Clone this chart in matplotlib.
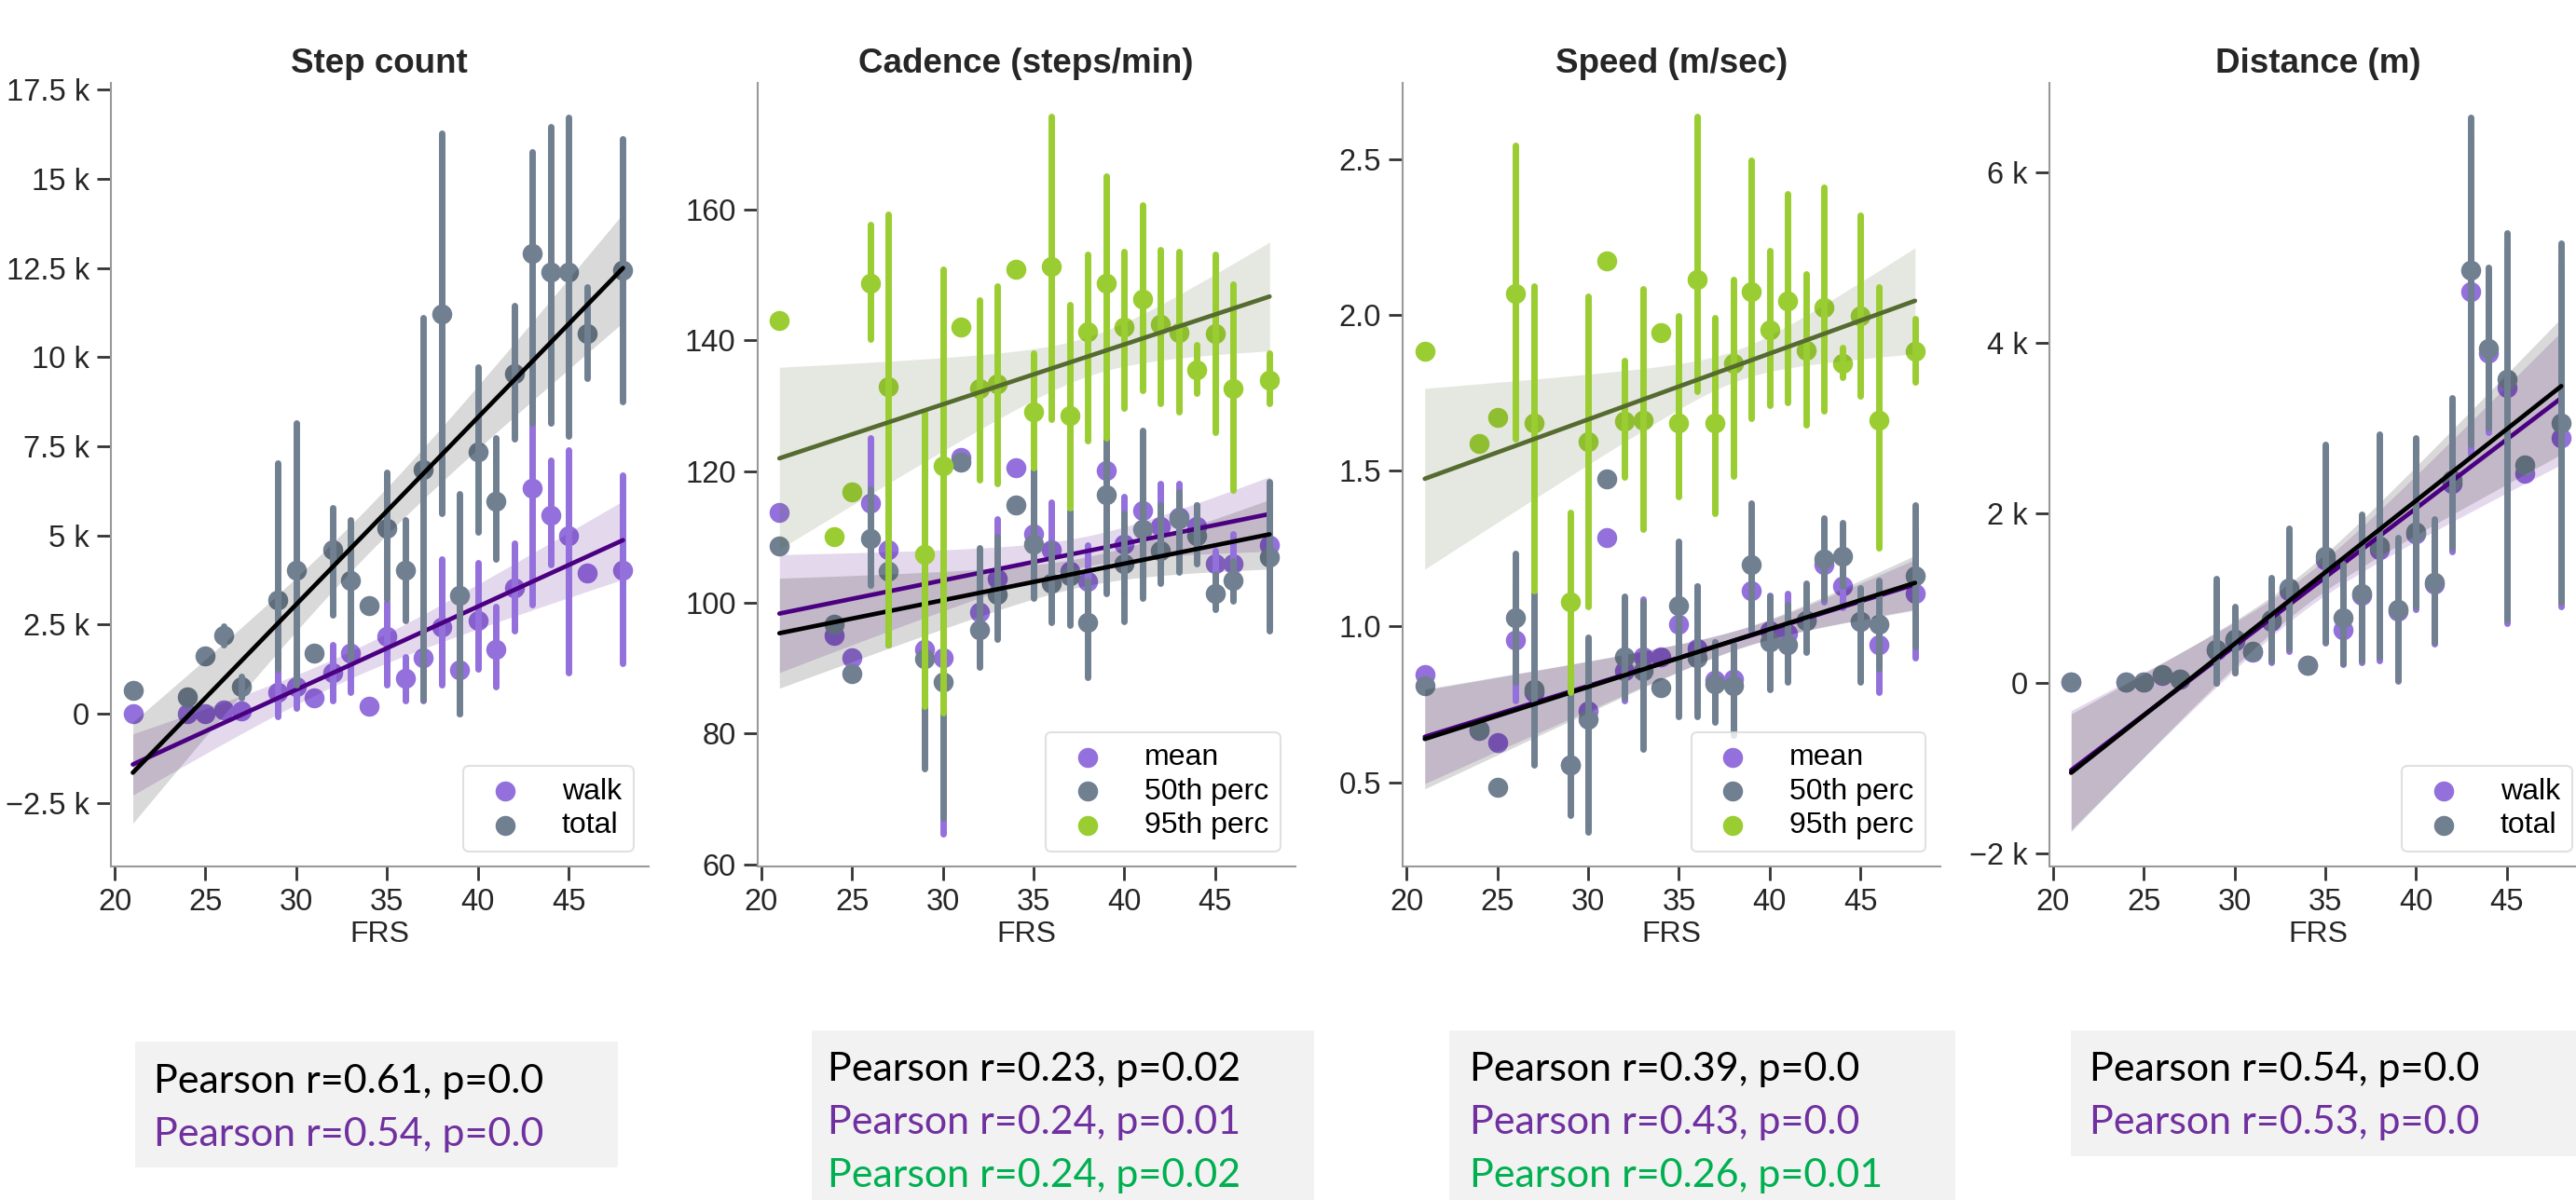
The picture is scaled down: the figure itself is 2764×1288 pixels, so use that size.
import numpy as np
import matplotlib
matplotlib.use("Agg")
import matplotlib.pyplot as plt
from matplotlib.patches import Rectangle
from matplotlib.ticker import FuncFormatter, MultipleLocator

nan = np.nan

# FRS values (x) shared by all panels
frs = [21, 24, 25, 26, 27, 29, 30, 31, 32, 33, 34, 35, 36, 37, 38, 39, 40, 41, 42, 43, 44, 45, 46, 48]

# Step count: walk / total (mean, CI low, CI high)
steps_walk = [0, 0, 0, 100, 70, 600, 750, 450, 1150, 1690, 220, 2170, 1000, 1570, 2440, 1240, 2620, 1800, 3520, 6330, 5580, 4990, 3940, 4030]
steps_walk_lo = [nan, nan, nan, nan, nan, -70, 150, nan, 370, 600, nan, 820, 370, 370, 820, 0, 1270, 750, 2320, 3070, 4190, 1150, nan, 1420]
steps_walk_hi = [nan, nan, nan, nan, nan, 1720, 1570, nan, 1950, 2020, nan, 3140, 1600, 3000, 4340, 2600, 4240, 3000, 4790, 8880, 7110, 7410, nan, 6690]
steps_total = [670, 480, 1630, 2200, 750, 3190, 4030, 1690, 4600, 3740, 3040, 5190, 4030, 6840, 11200, 3320, 7340, 5960, 9550, 12920, 12380, 12380, 10670, 12430]
steps_total_lo = [nan, nan, nan, 1950, 450, 1270, 820, nan, 2770, 1570, nan, 3220, 2620, 400, 5610, 0, 5090, 4340, 7710, 8160, 8160, 7780, 9400, 8760]
steps_total_hi = [nan, nan, nan, 2470, 1050, 7040, 8160, nan, 5790, 5430, nan, 6780, 5430, 11100, 16270, 6180, 9730, 7740, 11450, 15750, 16470, 16720, 11980, 16120]

# Cadence: mean / 50th / 95th percentile
cad_mean = [113.8, 95.0, 91.6, 115.1, 108.1, 92.8, 91.6, 122.2, 98.5, 103.7, 120.6, 110.5, 108.1, 104.8, 103.2, 120.2, 108.9, 114.0, 111.6, 113.0, 111.6, 105.9, 105.9, 108.7]
cad_mean_lo = [nan, nan, nan, 105.0, 98.0, 76.0, 64.7, nan, 93.0, 96.0, nan, 101.4, 100.6, 98.1, 98.1, 104.0, 101.4, 103.0, 105.5, 107.1, 107.9, 103.4, 100.6, 101.4]
cad_mean_hi = [nan, nan, nan, 125.1, 118.0, 108.0, 107.0, nan, 104.0, 112.8, nan, 120.2, 115.3, 112.0, 108.7, 133.0, 116.1, 116.1, 118.1, 118.1, 114.9, 107.9, 110.4, 114.4]
cad_p50 = [108.6, 96.7, 89.1, 109.7, 104.8, 91.4, 87.9, 121.4, 95.8, 101.2, 114.9, 108.9, 102.9, 104.0, 96.9, 116.5, 105.9, 111.2, 107.9, 112.8, 110.2, 101.4, 103.4, 106.9]
cad_p50_lo = [nan, nan, nan, 102.6, 93.6, 74.6, 67.1, nan, 90.1, 94.4, nan, 100.6, 96.9, 96.5, 88.5, 101.4, 97.1, 100.6, 103.0, 104.7, 105.9, 98.9, 100.2, 95.7]
cad_p50_hi = [nan, nan, nan, 117.3, 114.4, 103.0, 106.0, nan, 108.3, 110.0, nan, 120.2, 109.1, 114.0, 103.4, 132.4, 113.6, 126.3, 114.9, 116.9, 114.9, 104.3, 106.3, 118.5]
cad_p95 = [143.0, 110.1, 116.9, 148.7, 133.0, 107.3, 120.8, 142.0, 132.6, 133.4, 150.8, 129.1, 151.3, 128.6, 141.4, 148.7, 142.0, 146.3, 142.4, 141.2, 135.5, 141.0, 132.7, 133.9]
cad_p95_lo = [nan, nan, nan, 140.2, 93.6, 84.2, 83.1, nan, 118.7, 118.1, nan, 120.6, 127.9, 114.4, 124.7, 125.1, 129.6, 132.4, 130.4, 129.1, 132.0, 125.9, 117.1, 130.4]
cad_p95_hi = [nan, nan, nan, 157.7, 159.3, 129.1, 150.8, nan, 146.1, 148.3, nan, 138.0, 174.2, 145.5, 153.2, 165.1, 153.5, 160.6, 153.8, 153.6, 139.3, 153.2, 148.6, 138.0]

# Speed: mean / 50th / 95th percentile
spd_mean = [0.845, 0.665, 0.629, 0.955, 0.79, 0.557, 0.728, 1.286, 0.857, 0.903, 0.903, 1.006, 0.930, 0.828, 0.831, 1.114, 0.985, 0.977, 1.02, 1.2, 1.131, 1.016, 0.942, 1.106]
spd_mean_lo = [nan, nan, nan, 0.762, 0.56, 0.40, 0.36, nan, 0.762, 0.711, nan, 0.852, 0.745, 0.70, 0.66, 0.985, 0.80, 0.865, 0.92, 1.08, 1.06, 0.83, 0.788, 0.90]
spd_mean_hi = [nan, nan, nan, 1.15, 1.08, 0.80, 0.95, nan, 1.088, 1.088, nan, 1.208, 1.131, 0.95, 0.94, 1.294, 1.10, 1.105, 1.13, 1.33, 1.20, 1.12, 1.105, 1.311]
spd_p50 = [0.810, 0.668, 0.485, 1.028, 0.797, 0.557, 0.702, 1.474, 0.903, 0.857, 0.805, 1.066, 0.900, 0.817, 0.809, 1.200, 0.951, 0.942, 1.020, 1.217, 1.226, 1.016, 1.006, 1.162]
spd_p50_lo = [nan, nan, nan, 0.822, 0.557, 0.394, 0.342, nan, 0.771, 0.608, nan, 0.711, 0.711, 0.694, 0.651, 0.994, 0.797, 0.822, 0.917, 1.088, 1.131, 0.822, 0.865, 0.934]
spd_p50_hi = [nan, nan, nan, 1.234, 1.105, 0.82, 0.965, nan, 1.097, 1.080, nan, 1.274, 1.131, 0.951, 0.942, 1.397, 1.097, 1.071, 1.140, 1.349, 1.332, 1.123, 1.149, 1.389]
spd_p95 = [1.883, 1.586, 1.671, 2.069, 1.654, 1.08, 1.594, 2.174, 1.658, 1.663, 1.943, 1.654, 2.114, 1.654, 1.843, 2.075, 1.951, 2.045, 1.886, 2.023, 1.843, 1.997, 1.663, 1.883]
spd_p95_lo = [nan, nan, nan, 1.603, 1.114, 0.788, 1.063, nan, 1.479, 1.311, nan, 1.418, 1.754, 1.363, 1.483, 1.668, 1.709, 1.720, 1.646, 1.692, 1.80, 1.74, 1.251, 1.783]
spd_p95_hi = [nan, nan, nan, 2.543, 2.092, 1.366, 2.058, nan, 1.852, 2.083, nan, 1.997, 2.636, 1.992, 2.114, 2.495, 2.207, 2.389, 2.131, 2.409, 1.894, 2.320, 2.088, 1.989]

# Distance: walk / total
dist_walk = [20, 20, 20, 90, 50, 390, 500, 370, 730, 1090, 210, 1450, 630, 1030, 1570, 850, 1750, 1160, 2350, 4600, 3880, 3470, 2470, 2880]
dist_walk_lo = [nan, nan, nan, nan, nan, 0, 120, nan, 250, 380, nan, 470, 220, 250, 270, 30, 870, 460, 1550, 2700, 2950, 700, nan, 900]
dist_walk_hi = [nan, nan, nan, nan, nan, 1190, 870, nan, 1200, 1770, nan, 2720, 1330, 1920, 2850, 1650, 2800, 1870, 3260, 6400, 4760, 5100, nan, 4900]
dist_total = [20, 20, 20, 100, 50, 400, 520, 380, 750, 1120, 210, 1490, 770, 1050, 1610, 870, 1780, 1190, 2390, 4850, 3930, 3570, 2560, 3060]
dist_total_lo = [nan, nan, nan, nan, nan, 0, 130, nan, 270, 410, nan, 490, 240, 270, 310, 40, 900, 490, 1590, 2810, 3000, 750, nan, 960]
dist_total_hi = [nan, nan, nan, nan, nan, 1230, 900, nan, 1240, 1820, nan, 2810, 1400, 1980, 2930, 1710, 2880, 1930, 3350, 6640, 4880, 5290, nan, 5170]

# regression fits: (y at 21, y at 48, CI half-width at 21, at 48, minimum)
fit_steps_walk = (-1420, 4870, 860, 1100, 380)
fit_steps_total = (-1650, 12500, 1420, 1530, 650)
fit_cad_mean = (98.3, 113.5, 9.0, 5.7, 2.3)
fit_cad_p50 = (95.3, 110.4, 8.4, 5.3, 2.2)
fit_cad_p95 = (122.0, 146.7, 13.9, 8.3, 3.0)
fit_spd_mean = (0.646, 1.135, 0.15, 0.08, 0.03)
fit_spd_p50 = (0.639, 1.140, 0.16, 0.088, 0.03)
fit_spd_p95 = (1.474, 2.045, 0.29, 0.17, 0.05)
fit_dist_walk = (-1020, 3350, 700, 780, 200)
fit_dist_total = (-1050, 3490, 690, 800, 200)

titles = ["Step count", "Cadence (steps/min)", "Speed (m/sec)", "Distance (m)"]
pearson = [
    [("Pearson r=0.61, p=0.0", "black"), ("Pearson r=0.54, p=0.0", "#7030a0")],
    [("Pearson r=0.23, p=0.02", "black"), ("Pearson r=0.24, p=0.01", "#7030a0"), ("Pearson r=0.24, p=0.02", "#00b050")],
    [("Pearson r=0.39, p=0.0", "black"), ("Pearson r=0.43, p=0.0", "#7030a0"), ("Pearson r=0.26, p=0.01", "#00b050")],
    [("Pearson r=0.54, p=0.0", "black"), ("Pearson r=0.53, p=0.0", "#7030a0")],
]

PURPLE = "mediumpurple"
SLATE = "slategray"
GREEN = "yellowgreen"

plt.rcParams["font.family"] = ["Liberation Sans", "DejaVu Sans"]

W, H = 2764, 1288
fig = plt.figure(figsize=(W / 100, H / 100), dpi=100)


def draw_series(ax, mean, lo, hi, color, fit, line_color, label):
    for xi, l, h in zip(frs, lo, hi):
        if np.isnan(l):
            continue
        ax.plot([xi, xi], [l, h], color=color, lw=5, solid_capstyle="round", zorder=2)
    ax.scatter(frs, mean, s=240, color=color, lw=0, label=label, zorder=1)
    y0, y1, h0, h1, hc = fit
    a = np.sqrt(h0 ** 2 - hc ** 2)
    b = np.sqrt(h1 ** 2 - hc ** 2)
    xc = (21 * b + 48 * a) / (a + b)
    k = ((a + b) / 27) ** 2
    grid = np.linspace(21, 48, 120)
    yhat = y0 + (y1 - y0) * (grid - 21) / 27
    half = np.sqrt(hc ** 2 + k * (grid - xc) ** 2)
    ax.plot(grid, yhat, color=line_color, lw=3.4, solid_capstyle="round", zorder=2)
    ax.fill_between(grid, yhat - half, yhat + half, color=line_color, alpha=0.15, lw=0, zorder=1)


def kfmt(v, pos):
    if abs(v) < 1e-9:
        return "0"
    s = "%g k" % (v / 1000)
    return s.replace("-", "\u2212")


panels = [
    dict(series=[(steps_walk, steps_walk_lo, steps_walk_hi, PURPLE, fit_steps_walk, "indigo", "walk"),
                 (steps_total, steps_total_lo, steps_total_hi, SLATE, fit_steps_total, "black", "total")],
         ylim=(-4280, 17690), step=2500, fmt=FuncFormatter(kfmt)),
    dict(series=[(cad_mean, cad_mean_lo, cad_mean_hi, PURPLE, fit_cad_mean, "indigo", "mean"),
                 (cad_p50, cad_p50_lo, cad_p50_hi, SLATE, fit_cad_p50, "black", "50th perc"),
                 (cad_p95, cad_p95_lo, cad_p95_hi, GREEN, fit_cad_p95, "darkolivegreen", "95th perc")],
         ylim=(59.7, 179.3), step=20, fmt=None),
    dict(series=[(spd_mean, spd_mean_lo, spd_mean_hi, PURPLE, fit_spd_mean, "indigo", "mean"),
                 (spd_p50, spd_p50_lo, spd_p50_hi, SLATE, fit_spd_p50, "black", "50th perc"),
                 (spd_p95, spd_p95_lo, spd_p95_hi, GREEN, fit_spd_p95, "darkolivegreen", "95th perc")],
         ylim=(0.23, 2.744), step=0.5, fmt=FuncFormatter(lambda v, p: "%.1f" % v)),
    dict(series=[(dist_walk, dist_walk_lo, dist_walk_hi, PURPLE, fit_dist_walk, "indigo", "walk"),
                 (dist_total, dist_total_lo, dist_total_hi, SLATE, fit_dist_total, "black", "total")],
         ylim=(-2150, 7050), step=2000, fmt=FuncFormatter(kfmt)),
]

lefts = [118.75, 812.5, 1505, 2198.5]
ax_w, ax_top, ax_bot = 577, 89, 930

for i, p in enumerate(panels):
    ax = fig.add_axes([lefts[i] / W, 1 - ax_bot / H, ax_w / W, (ax_bot - ax_top) / H])
    for s in p["series"]:
        draw_series(ax, *s)
    ax.set_xlim(19.78, 49.4)
    ax.set_ylim(*p["ylim"])
    ax.yaxis.set_major_locator(MultipleLocator(p["step"]))
    if p["fmt"] is not None:
        ax.yaxis.set_major_formatter(p["fmt"])
    ax.xaxis.set_major_locator(MultipleLocator(5))
    ax.spines[["top", "right"]].set_visible(False)
    for sp in ["left", "bottom"]:
        ax.spines[sp].set_color("0.6")
        ax.spines[sp].set_linewidth(1.5)
    ax.tick_params(length=10.5, width=2, color="0.2", labelsize=23.5, labelcolor="#262626", pad=6)
    ax.set_xlabel("FRS", fontsize=23, color="#262626", labelpad=3)
    ax.set_title(titles[i], fontsize=26.5, fontweight="bold", color="#262626", pad=8)
    leg = ax.legend(loc="lower right", fontsize=23, labelspacing=0.2, handletextpad=0.9,
                    borderpad=0.4, scatterpoints=1, frameon=True, fancybox=True)
    leg.get_frame().set_edgecolor("0.85")
    leg.get_frame().set_linewidth(1.5)

# Pearson text boxes below the panels (pixel layout)
boxes = [(144.6, 1118, 662.5, 1253), (871, 1105.6, 1410, 1288), (1555, 1105.6, 2097.6, 1288), (2222, 1105.6, 2764, 1241)]
text_left = [165, 888, 1576.6, 2242]
baselines = [[1172.8, 1229.8], [1160.3, 1217.3, 1274.3], [1160.3, 1217.3, 1274.3], [1160.3, 1217.3]]
for (x0, y0, x1, y1), tx, bl, lines in zip(boxes, text_left, baselines, pearson):
    fig.add_artist(Rectangle((x0 / W, 1 - y1 / H), (x1 - x0) / W, (y1 - y0) / H,
                             transform=fig.transFigure, facecolor="#f2f2f2", edgecolor="none", zorder=0))
    for (txt, col), yb in zip(lines, bl):
        fig.text(tx / W, 1 - yb / H, txt, color=col, fontsize=31, family=["Lato", "DejaVu Sans"],
                 ha="left", va="baseline")

fig.savefig("out.png", dpi=100, facecolor="white")
